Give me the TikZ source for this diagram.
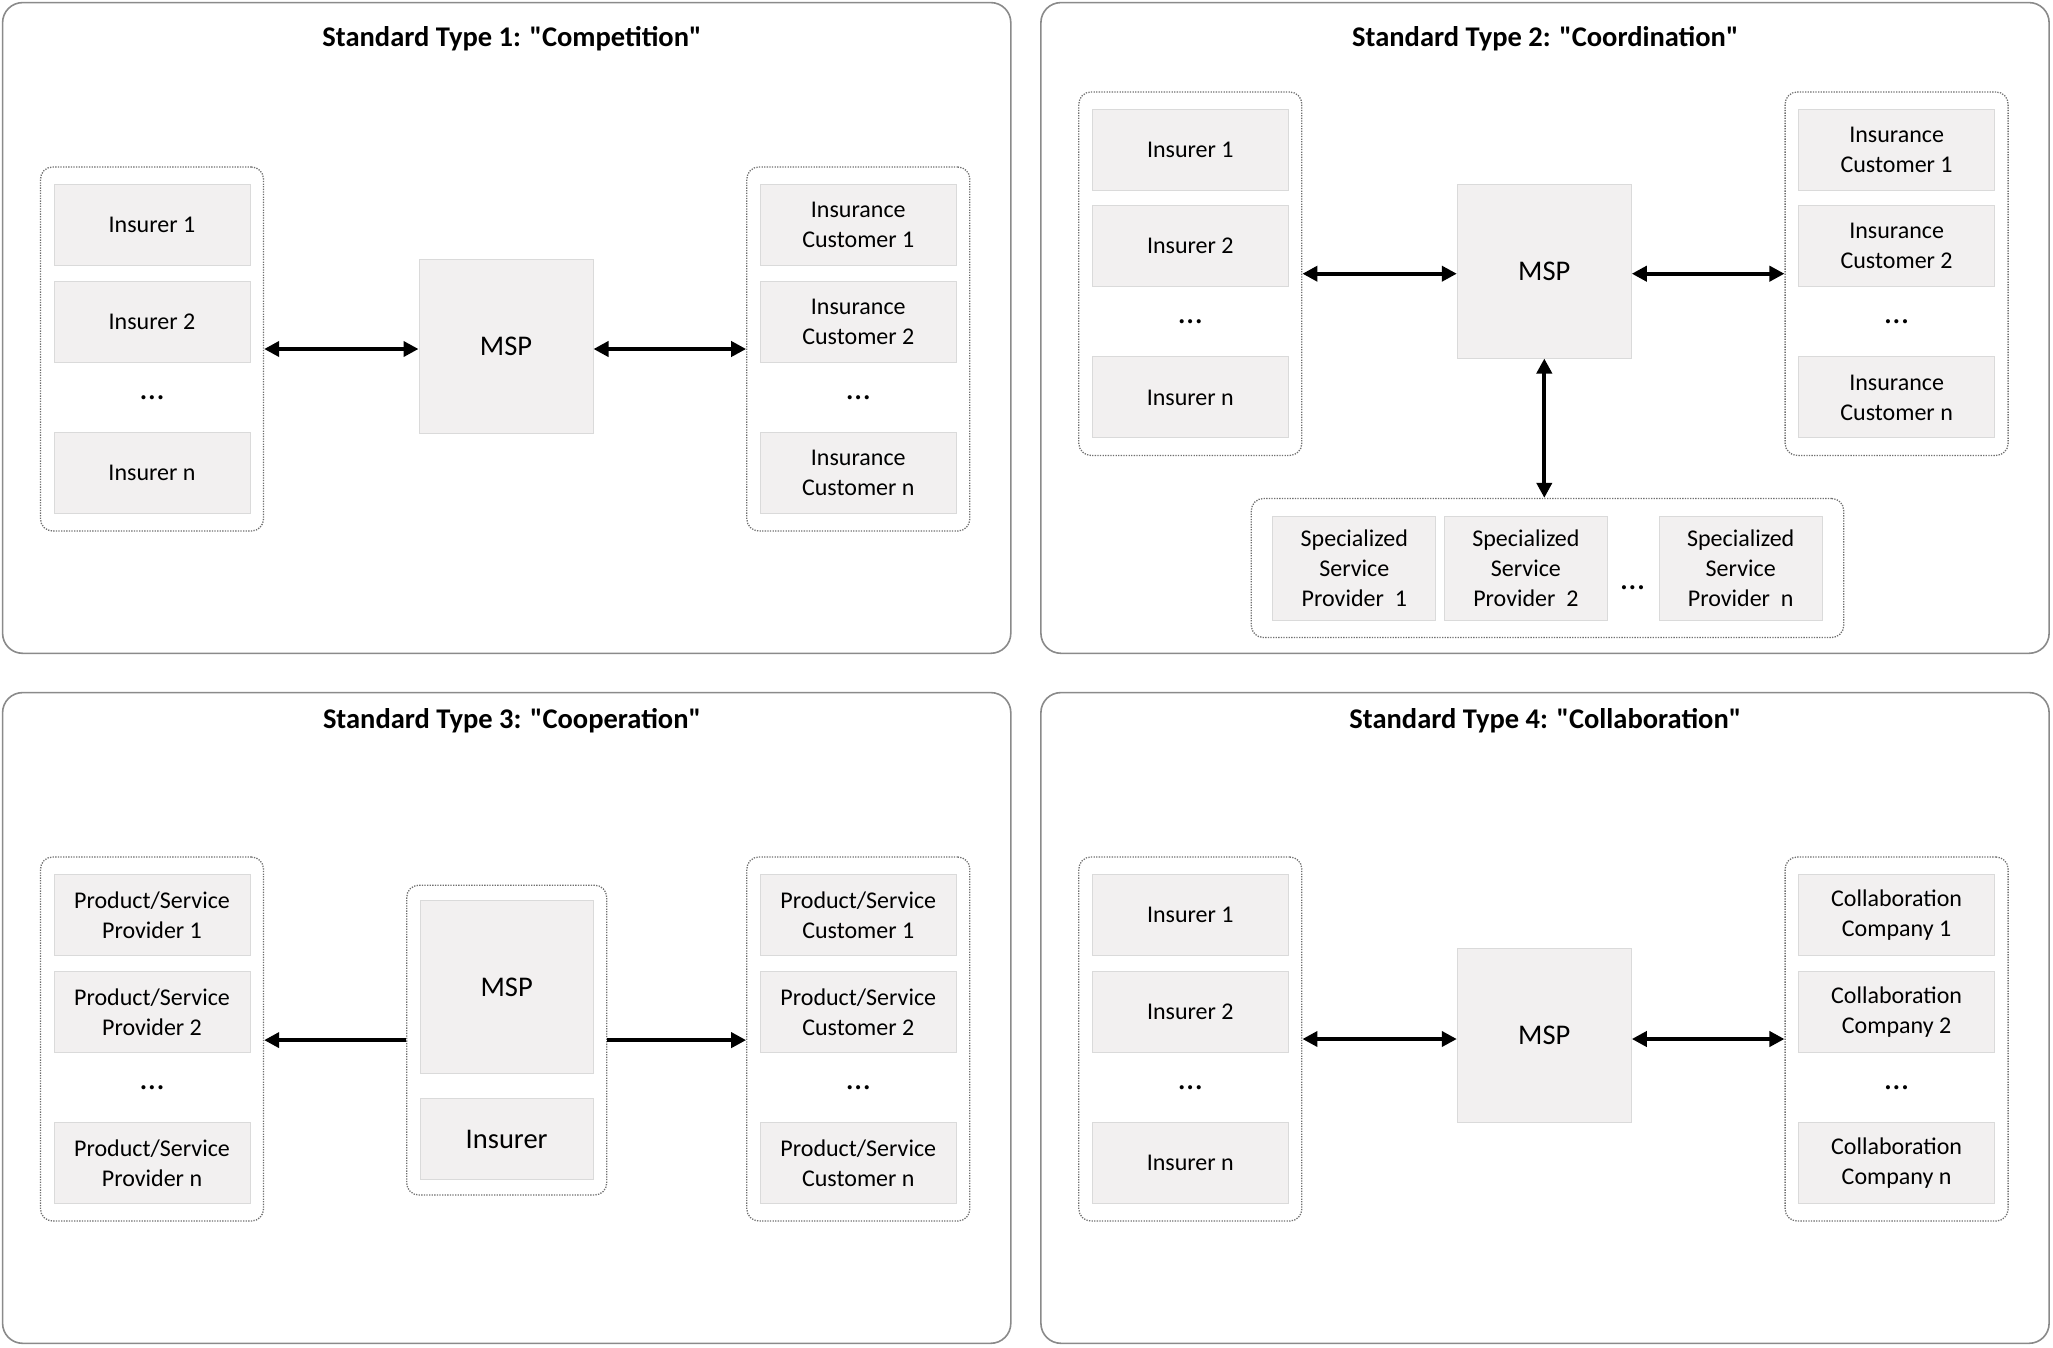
\documentclass[tikz,border=0pt]{standalone}
\usepackage{fontspec}
\setmainfont{Carlito}
\usetikzlibrary{positioning,fit,arrows.meta}

\definecolor{framegray}{HTML}{8A8A8A}
\definecolor{dotgray}{HTML}{707070}
\definecolor{cellfill}{HTML}{F2F0F0}
\definecolor{celledge}{HTML}{DADADA}

\newcommand\qq[1]{\textquotedbl#1\textquotedbl}

\begin{document}
\begin{tikzpicture}[x=1pt,y=-1pt,
    panelbox/.style={draw=framegray,line width=1.6pt,rounded corners=20pt},
    grp/.style={draw=dotgray,line width=1.3pt,dash pattern=on 1.3pt off 1.3pt,rounded corners=12pt,inner xsep=13pt,inner ysep=17pt},
    cell/.style={draw=celledge,fill=cellfill,line width=1pt,minimum width=196pt,minimum height=81pt,inner sep=0pt,align=center,font=\fontsize{24}{30}\selectfont},
    hub/.style={cell,minimum width=174pt,minimum height=174pt,font=\fontsize{28.5}{34}\selectfont},
    sspcell/.style={cell,minimum width=163pt,minimum height=104pt},
    dotsrow/.style={inner sep=0pt,font=\fontsize{34}{34}\selectfont},
    heading/.style={anchor=base,font=\fontsize{28.5}{34}\selectfont\bfseries},
    link/.style={line width=4.2pt,{Triangle[length=15pt,width=15pt]}-{Triangle[length=15pt,width=15pt]}},
    oneway/.style={line width=4.2pt,-{Triangle[length=15pt,width=15pt]}}]

  \useasboundingbox (0,0) rectangle (2053,1347);

  %%%% Standard type 1: competition %%%%
  \begin{scope}
    \draw[panelbox] (2.6,2.6) rectangle (1010.8,653.3);
    \node[heading] (a-head) at (512,46.7) {Standard Type 1: \qq{Competition}};
    %% Insurers on the left
    \foreach \n/\y/\t in {1/225/Insurer 1,2/322/Insurer 2,n/473/Insurer n}{
      \node[cell] (a-L\n) at (152,\y) {\t};
    }
    \node[dotsrow] (a-Ldots) at (152,398) {\ldots};
    \node[grp,fit=(a-L1)(a-Ln)] (a-Lgrp) {};
    %% Customers on the right
    \foreach \n/\y/\t in {1/225/{Insurance\\Customer 1},2/322/{Insurance\\Customer 2},n/473/{Insurance\\Customer n}}{
      \node[cell] (a-R\n) at (858.3,\y) {\t};
    }
    \node[dotsrow] (a-Rdots) at (858.3,398) {\ldots};
    \node[grp,fit=(a-R1)(a-Rn)] (a-Rgrp) {};
    %% Platform in the middle
    \node[hub] (a-hub) at (506,346) {MSP};
    \draw[link] (a-Lgrp.east) -- (a-Lgrp.east -| a-hub.west);
    \draw[link] (a-Rgrp.west -| a-hub.east) -- (a-Rgrp.west);
  \end{scope}

  %%%% Standard type 2: coordination %%%%
  \begin{scope}[shift={(1038.3,0)}]
    \draw[panelbox] (2.6,2.6) rectangle (1010.8,653.3);
    \node[heading] (b-head) at (507,46.7) {Standard Type 2: \qq{Coordination}};
    \foreach \n/\y/\t in {1/150/Insurer 1,2/246/Insurer 2,n/397.4/Insurer n}{
      \node[cell] (b-L\n) at (152,\y) {\t};
    }
    \node[dotsrow] (b-Ldots) at (152,322) {\ldots};
    \node[grp,fit=(b-L1)(b-Ln)] (b-Lgrp) {};
    \foreach \n/\y/\t in {1/150/{Insurance\\Customer 1},2/246/{Insurance\\Customer 2},n/397.4/{Insurance\\Customer n}}{
      \node[cell] (b-R\n) at (858.3,\y) {\t};
    }
    \node[dotsrow] (b-Rdots) at (858.3,322) {\ldots};
    \node[grp,fit=(b-R1)(b-Rn)] (b-Rgrp) {};
    \node[hub] (b-hub) at (506,271) {MSP};
    %% Specialized service providers below
    \node[sspcell] (b-S1) at (316,568) {Specialized\\Service\\Provider~~1};
    \node[sspcell,right=7.6pt of b-S1] (b-S2) {Specialized\\Service\\Provider~~2};
    \node[sspcell] (b-Sn) at (702.4,568) {Specialized\\Service\\Provider~~n};
    \node[dotsrow] (b-Sdots) at (594.4,588) {\ldots};
    \node[grp,fit=(b-S1)(b-Sn),inner xsep=21pt] (b-Bgrp) {};
    \draw[link] (b-Lgrp.east) -- (b-Lgrp.east -| b-hub.west);
    \draw[link] (b-Rgrp.west -| b-hub.east) -- (b-Rgrp.west);
    \draw[link] (b-hub.south) -- (b-hub.south |- b-Bgrp.north);
  \end{scope}

  %%%% Standard type 3: cooperation %%%%
  \begin{scope}[shift={(0,690)}]
    \draw[panelbox] (2.6,2.6) rectangle (1010.8,653.3);
    \node[heading] (c-head) at (512,38.3) {Standard Type 3: \qq{Cooperation}};
    \foreach \n/\y/\t in {1/225/{Product/Service\\Provider 1},2/322/{Product/Service\\Provider 2},n/473/{Product/Service\\Provider n}}{
      \node[cell] (c-L\n) at (152,\y) {\t};
    }
    \node[dotsrow] (c-Ldots) at (152,398) {\ldots};
    \node[grp,fit=(c-L1)(c-Ln)] (c-Lgrp) {};
    \foreach \n/\y/\t in {1/225/{Product/Service\\Customer 1},2/322/{Product/Service\\Customer 2},n/473/{Product/Service\\Customer n}}{
      \node[cell] (c-R\n) at (858.3,\y) {\t};
    }
    \node[dotsrow] (c-Rdots) at (858.3,398) {\ldots};
    \node[grp,fit=(c-R1)(c-Rn)] (c-Rgrp) {};
    %% Platform run by the insurer
    \node[hub,minimum width=173pt,minimum height=173pt] (c-hub) at (506.7,297.2) {MSP};
    \node[cell,minimum width=173pt,font=\fontsize{28.5}{34}\selectfont] (c-ins) at (506.7,449) {Insurer};
    \node[grp,fit=(c-hub)(c-ins),inner ysep=15pt] (c-Mgrp) {};
    \draw[oneway] (c-Mgrp.west) -- (c-Mgrp.west -| c-Lgrp.east);
    \draw[oneway] (c-Mgrp.east) -- (c-Mgrp.east -| c-Rgrp.west);
  \end{scope}

  %%%% Standard type 4: collaboration %%%%
  \begin{scope}[shift={(1038.3,690)}]
    \draw[panelbox] (2.6,2.6) rectangle (1010.8,653.3);
    \node[heading] (d-head) at (507,38.3) {Standard Type 4: \qq{Collaboration}};
    \foreach \n/\y/\t in {1/225/Insurer 1,2/322/Insurer 2,n/473/Insurer n}{
      \node[cell] (d-L\n) at (152,\y) {\t};
    }
    \node[dotsrow] (d-Ldots) at (152,398) {\ldots};
    \node[grp,fit=(d-L1)(d-Ln)] (d-Lgrp) {};
    \foreach \n/\y/\t in {1/225/{Collaboration\\Company 1},2/322/{Collaboration\\Company 2},n/473/{Collaboration\\Company n}}{
      \node[cell] (d-R\n) at (858.3,\y) {\t};
    }
    \node[dotsrow] (d-Rdots) at (858.3,398) {\ldots};
    \node[grp,fit=(d-R1)(d-Rn)] (d-Rgrp) {};
    \node[hub] (d-hub) at (506,345) {MSP};
    \draw[link] (d-Lgrp.east) -- (d-Lgrp.east -| d-hub.west);
    \draw[link] (d-Rgrp.west -| d-hub.east) -- (d-Rgrp.west);
  \end{scope}

\end{tikzpicture}
\end{document}
